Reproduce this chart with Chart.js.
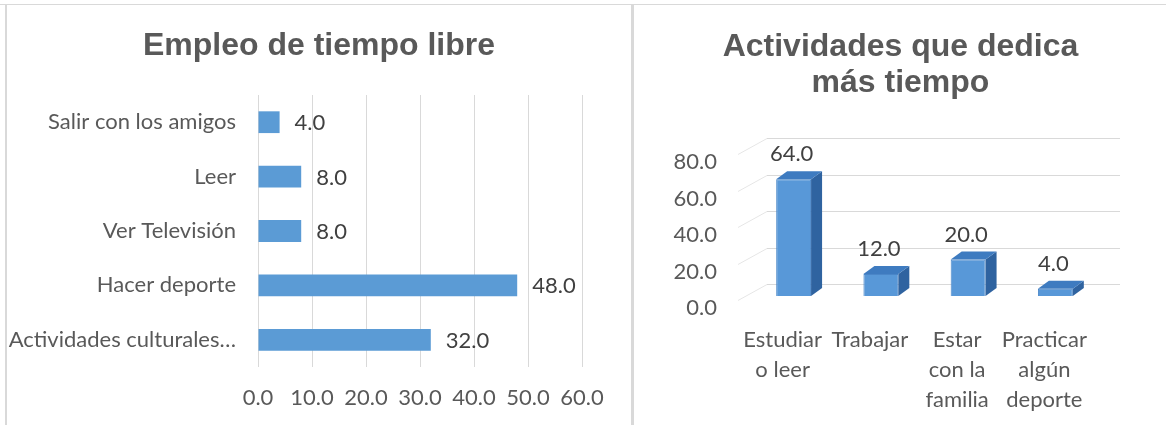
<!DOCTYPE html>
<html>
<head>
<meta charset="utf-8">
<script src="https://cdn.jsdelivr.net/npm/chart.js@4.4.0/dist/chart.umd.min.js"></script>
<style>
  body { margin: 0; background: #fff; width: 1166px; height: 425px; position: relative; overflow: hidden; }
  .line { position: absolute; background: #d9d9d9; }
  .box { position: absolute; }
</style>
</head>
<body>
<div class="line" style="left:0;top:4px;width:1166px;height:1px"></div>
<div class="line" style="left:5px;top:4px;width:2px;height:421px"></div>
<div class="line" style="left:631px;top:4px;width:3px;height:421px"></div>
<div class="box" style="left:8px;top:5px;width:622px;height:420px"><canvas id="tiempoLibre"></canvas></div>
<div class="box" style="left:635px;top:5px;width:531px;height:420px"><canvas id="actividades"></canvas></div>
<script>
var tiempoLabels = ["Salir con los amigos", "Leer", "Ver Televisión", "Hacer deporte", "Actividades culturales…"];
var tiempoValores = [4, 8, 8, 48, 32];
var tiempoTicks = [0, 10, 20, 30, 40, 50, 60];

var actividadLabels = [["Estudiar", "o leer"], ["Trabajar"], ["Estar", "con la", "familia"], ["Practicar", "algún", "deporte"]];
var actividadValores = [64, 12, 20, 4];
var actividadTicks = [0, 20, 40, 60, 80];

Chart.defaults.font.family = "Lato";
Chart.defaults.color = "#595959";
Chart.defaults.animation = false;

var tituloFont = { family: "Liberation Sans", size: 32, weight: "bold", lineHeight: 1.125 };
var tickFont = { family: "Lato", size: 22 };

// eje vacio a la derecha: reserva espacio sin mover el titulo
function margenDerecho(ancho) {
  return {
    position: "right",
    type: "linear",
    ticks: { display: false },
    grid: { display: false },
    border: { display: false },
    afterFit: function (s) { s.width = ancho; }
  };
}

// etiquetas de valor para las barras horizontales
var valoresBarra = {
  id: "valoresBarra",
  afterDatasetsDraw: function (chart) {
    var ctx = chart.ctx;
    var data = chart.data.datasets[0].data;
    ctx.save();
    ctx.fillStyle = "#404040";
    ctx.font = "22px Lato";
    ctx.textAlign = "left";
    ctx.textBaseline = "middle";
    chart.getDatasetMeta(0).data.forEach(function (bar, i) {
      ctx.fillText(data[i].toFixed(1), bar.x + 15, bar.y + 1);
    });
    ctx.restore();
  }
};

new Chart(document.getElementById("tiempoLibre"), {
  type: "bar",
  data: {
    labels: tiempoLabels,
    datasets: [{
      data: tiempoValores,
      backgroundColor: "#5b9bd5",
      barPercentage: 0.4,
      categoryPercentage: 1
    }]
  },
  options: {
    indexAxis: "y",
    responsive: true,
    maintainAspectRatio: false,
    plugins: {
      legend: { display: false },
      tooltip: { enabled: false },
      title: {
        display: true,
        text: "Empleo de tiempo libre",
        color: "#595959",
        font: tituloFont,
        padding: { top: 23, bottom: 31 }
      }
    },
    scales: {
      x: {
        min: tiempoTicks[0],
        max: tiempoTicks[tiempoTicks.length - 1],
        grid: { color: "#d9d9d9", drawTicks: false },
        border: { display: false },
        ticks: {
          stepSize: tiempoTicks[1] - tiempoTicks[0],
          font: tickFont,
          padding: 18,
          callback: function (v) { return Number(v).toFixed(1); }
        },
        afterFit: function (s) { s.height = 58; }
      },
      y: {
        grid: { display: false },
        border: { display: false },
        ticks: { font: tickFont, padding: 14 },
        afterFit: function (s) { s.width = 250; }
      },
      margen: margenDerecho(48)
    }
  },
  plugins: [valoresBarra]
});

// caras laterales, superiores y paredes del grafico 3D
var cubo = {
  id: "cubo",
  beforeDatasetsDraw: function (chart) {
    var ctx = chart.ctx, a = chart.chartArea, y = chart.scales.y;
    ctx.save();
    ctx.lineWidth = 1;
    actividadTicks.forEach(function (t) {
      var py = Math.round(y.getPixelForValue(t)) - 12 + 0.5;
      ctx.strokeStyle = "#d9d9d9";
      ctx.beginPath();
      ctx.moveTo(a.left + 17, py);
      ctx.lineTo(a.right + 21, py);
      ctx.stroke();
      ctx.strokeStyle = "#e6e6e6";
      ctx.beginPath();
      ctx.moveTo(a.left - 12, py + 16);
      ctx.lineTo(a.left + 17, py);
      ctx.stroke();
    });
    ctx.restore();
  },
  afterDatasetsDraw: function (chart) {
    var ctx = chart.ctx;
    var data = chart.data.datasets[0].data;
    var dx = 11, dy = -8;
    ctx.save();
    chart.getDatasetMeta(0).data.forEach(function (bar, i) {
      var l = bar.x - bar.width / 2, r = bar.x + bar.width / 2;
      var top = bar.y, base = bar.base;
      ctx.fillStyle = "#2f63a0";
      ctx.beginPath();
      ctx.moveTo(r, top);
      ctx.lineTo(r + dx, top + dy);
      ctx.lineTo(r + dx, base + dy);
      ctx.lineTo(r, base);
      ctx.closePath();
      ctx.fill();
      ctx.fillStyle = "#3e7bc0";
      ctx.beginPath();
      ctx.moveTo(l, top);
      ctx.lineTo(l + dx, top + dy);
      ctx.lineTo(r + dx, top + dy);
      ctx.lineTo(r, top);
      ctx.closePath();
      ctx.fill();
      ctx.fillStyle = "#404040";
      ctx.font = "22px Lato";
      ctx.textAlign = "center";
      ctx.textBaseline = "middle";
      ctx.fillText(data[i].toFixed(1), bar.x - 2, top - 25);
    });
    ctx.restore();
  }
};

new Chart(document.getElementById("actividades"), {
  type: "bar",
  data: {
    labels: actividadLabels,
    datasets: [{
      data: actividadValores,
      backgroundColor: "#5898d8",
      borderColor: "#4a86c8",
      borderWidth: 1,
      barPercentage: 0.4,
      categoryPercentage: 1
    }]
  },
  options: {
    responsive: true,
    maintainAspectRatio: false,
    plugins: {
      legend: { display: false },
      tooltip: { enabled: false },
      title: {
        display: true,
        text: ["Actividades que dedica", "más tiempo"],
        color: "#595959",
        font: tituloFont,
        padding: { top: 24, bottom: 49 }
      }
    },
    scales: {
      x: {
        grid: { display: false },
        border: { display: false },
        ticks: { font: { family: "Lato", size: 22, lineHeight: 1.36 }, padding: 21, labelOffset: -11, maxRotation: 0, autoSkip: false },
        afterFit: function (s) { s.height = 129; }
      },
      y: {
        min: actividadTicks[0],
        max: actividadTicks[actividadTicks.length - 1],
        grid: { display: false },
        border: { display: false },
        ticks: {
          stepSize: actividadTicks[1] - actividadTicks[0],
          font: tickFont,
          padding: 25,
          labelOffset: 12,
          callback: function (v) { return Number(v).toFixed(1); }
        },
        afterFit: function (s) { s.width = 115; }
      },
      margen: margenDerecho(67)
    }
  },
  plugins: [cubo]
});
</script>
</body>
</html>
